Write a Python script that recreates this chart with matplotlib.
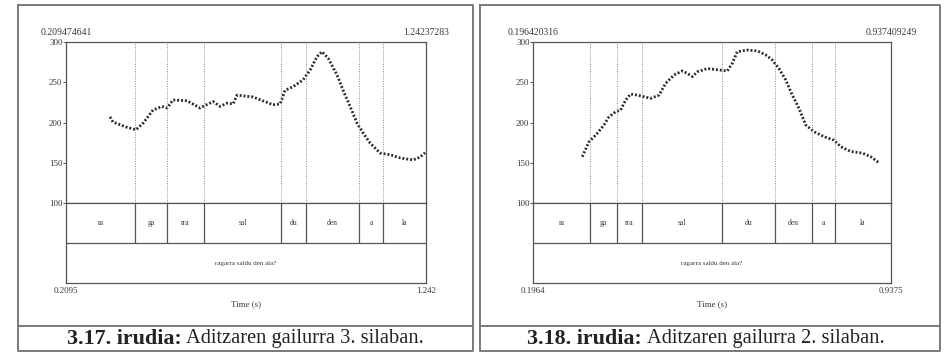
import matplotlib.pyplot as plt

W=949
H=352

# pitch tracks (s, Hz)
T1=[0.3357,0.3443,0.3845,0.4103,0.4304,0.4591,0.4849,0.4993,0.5165,0.5567,0.5939,0.6312,0.6513,0.6714,0.6886,
	0.7001,0.7460,0.8034,0.8235,0.8378,0.8608,0.8895,0.9095,0.9296,0.9439,0.9612,0.9870,1.0042,1.0243,1.0444,
	1.0616,1.0817,1.1104,1.1391,1.1677,1.2050,1.2251,1.2395]
F1=[207,200.6,194,191,199,215.5,220,218,228,227,218,226,220,224,223,
	234,231.7,222,223,240,244.5,253,265,282,288,280,259,240,220,199,
	187,174.5,162,160,156,153.5,157,162.5]
T2=[0.2984,0.3123,0.3158,0.3295,0.3434,0.3537,0.3676,0.3779,0.3883,0.3986,0.4123,0.4262,0.4400,0.4572,0.4711,
	0.4883,0.5055,0.5158,0.5262,0.5365,0.5572,0.5850,0.5986,0.6090,0.6193,0.6400,0.6607,0.6781,0.6918,0.7056,
	0.7195,0.7332,0.7470,0.7609,0.7781,0.7988,0.8195,0.8334,0.8540,0.8781,0.8955,0.9126]
F2=[157.5,176,178,186.6,197,207,213.4,215.5,228,235.4,234,232,230,234,248.7,
	259,264,261,257,263,267,265,264,273.5,288,290,289,284,277.6,267,
	253,234,217.6,197,188.6,182.4,178,170,164,162,157.5,150]

# time ranges and textgrid
RANGE1=(0.2095,1.242)
RANGE2=(0.1964,0.9375)
TOP1=("0.209474641","1.24237283")
TOP2=("0.196420316","0.937409249")
BOT1=("0.2095","1.242")
BOT2=("0.1964","0.9375")
BOUNDS1=[0.4075,0.4993,0.6054,0.8263,0.898,1.050,1.119]
BOUNDS2=[0.3144,0.3703,0.422,0.5877,0.6974,0.774,0.8216]
SYLLABLES=["ra","ga","rra","sal","du","den","a","la"]
SENTENCE="ragarra saldu den ala?"
YTICKS=[100,150,200,250,300]
CAPTION_NUM=["3.17. irudia:","3.18. irudia:"]
CAPTION_TXT=["Aditzaren gailurra 3. silaban.","Aditzaren gailurra 2. silaban."]

FRAME="#7a7a7a"
INK="#3a3a3a"
SERIF="Liberation Serif"



def px_axes(fig,x0,y0,x1,y1):
	return fig.add_axes([x0/W,1-y1/H,(x1-x0)/W,(y1-y0)/H])



def draw_praat(fig,x0,x1,t,f,rng,top,bot,bounds):
	ax=px_axes(fig,x0,42,x1,203)
	ax.set_xlim(*rng)
	ax.set_ylim(100,300)
	ax.plot(t,f,ls=(0,(0.7,0.7)),lw=2.0,color="#2a2a2a")
	for b in bounds:
		ax.axvline(b,ls=(0,(1,1.5)),lw=0.7,color="#8a8a8a")
	ax.set_xticks([])
	ax.set_yticks(YTICKS)
	ax.set_yticklabels([str(v) for v in YTICKS],fontsize=6.5,family=SERIF,color=INK)
	ax.tick_params(axis="y",length=2,width=0.6,color=INK,pad=0.5)
	for s in ax.spines.values():
		s.set_color("#555555")
		s.set_linewidth(0.9)
	ax.text(0,1.03,top[0],transform=ax.transAxes,ha="center",va="bottom",fontsize=7,family=SERIF,color=INK)
	ax.text(1,1.03,top[1],transform=ax.transAxes,ha="center",va="bottom",fontsize=7,family=SERIF,color=INK)

	tg=px_axes(fig,x0,203,x1,283)
	tg.set_xlim(*rng)
	tg.set_ylim(0,2)
	tg.set_xticks([])
	tg.set_yticks([])
	for s in tg.spines.values():
		s.set_color("#555555")
		s.set_linewidth(0.9)
	tg.axhline(1,color="#555555",lw=0.9)
	tg.vlines(bounds,1,2,color="#555555",lw=0.9)
	edges=[rng[0]]+bounds+[rng[1]]
	for i,s in enumerate(SYLLABLES):
		tg.text((edges[i]+edges[i+1])/2,1.5,s,ha="center",va="center",fontsize=5.5,family=SERIF,color=INK)
	tg.text(sum(rng)/2,0.5,SENTENCE,ha="center",va="center",fontsize=5,family=SERIF,color=INK)
	tg.text(0,-0.05,bot[0],transform=tg.transAxes,ha="center",va="top",fontsize=6.5,family=SERIF,color=INK)
	tg.text(1,-0.05,bot[1],transform=tg.transAxes,ha="center",va="top",fontsize=6.5,family=SERIF,color=INK)
	tg.text(0.5,-0.22,"Time (s)",transform=tg.transAxes,ha="center",va="top",fontsize=6.5,family=SERIF,color=INK)



fig=plt.figure(figsize=(W/100,H/100),dpi=100)
bg=fig.add_axes([0,0,1,1])
bg.set_xlim(0,W)
bg.set_ylim(H,0)
bg.axis("off")

for a,b in [(18,473),(480,940)]:
	bg.plot([a,b,b,a,a],[5,5,351,351,5],color=FRAME,lw=1.4)
	bg.plot([a,b],[326,326],color=FRAME,lw=1.4)

draw_praat(fig,66,426,T1,F1,RANGE1,TOP1,BOT1,BOUNDS1)
draw_praat(fig,533,891,T2,F2,RANGE2,TOP2,BOT2,BOUNDS2)

for i,(xb,xr) in enumerate([(182,186),(642,647)]):
	bg.text(xb,339,CAPTION_NUM[i],ha="right",va="center",fontsize=15.8,family=SERIF,weight="bold",color="#222222")
	bg.text(xr,339,CAPTION_TXT[i],ha="left",va="center",fontsize=14.7,family=SERIF,color="#222222")

fig.savefig("out.png",dpi=100)
